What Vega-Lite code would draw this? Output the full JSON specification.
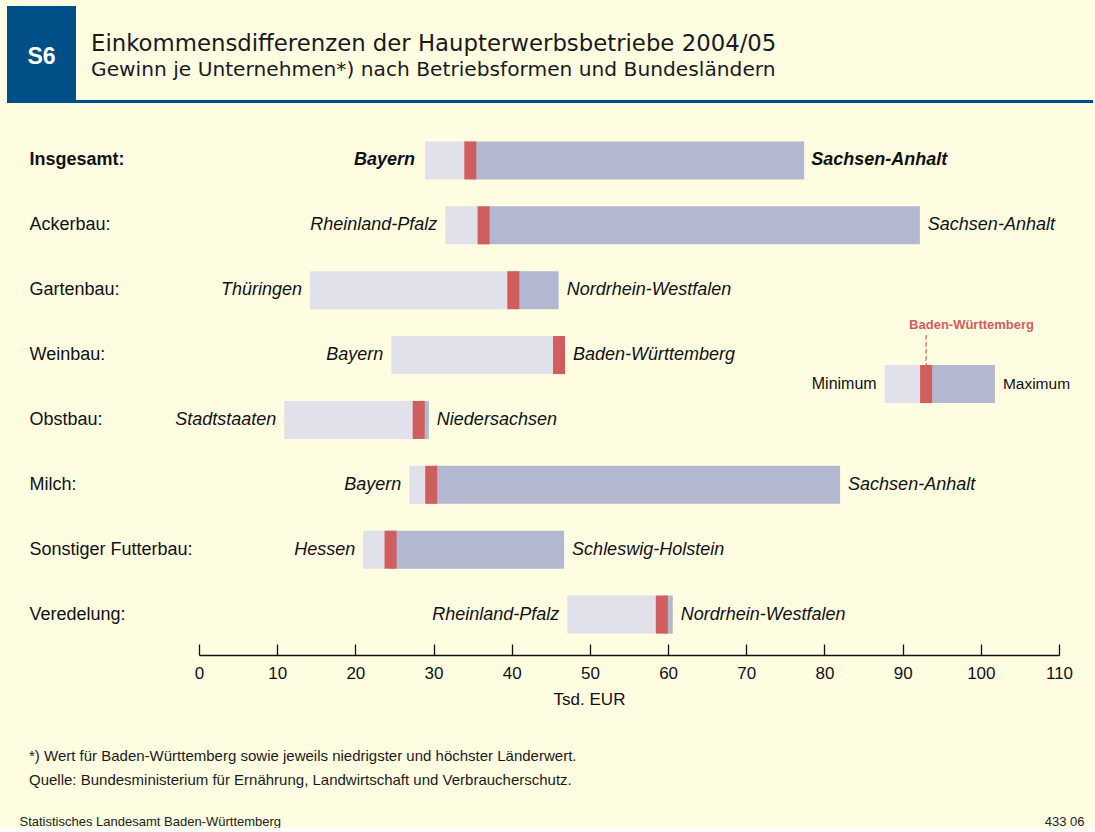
{
  "$schema": "https://vega.github.io/schema/vega-lite/v6.json",
  "background": "#fffde1",
  "padding": {"left": 6, "top": 6, "right": 3, "bottom": 0},
  "config": {"view": {"stroke": null}, "font": "Liberation Sans"},
  "spacing": 25,
  "datasets": {
    "rows": [
      {"cat": "Insgesamt:", "min": 28.9, "bw": 34.7, "max": 77.4, "minLand": "Bayern", "maxLand": "Sachsen-Anhalt"},
      {"cat": "Ackerbau:", "min": 31.5, "bw": 36.4, "max": 92.2, "minLand": "Rheinland-Pfalz", "maxLand": "Sachsen-Anhalt"},
      {"cat": "Gartenbau:", "min": 14.2, "bw": 40.2, "max": 46.0, "minLand": "Thüringen", "maxLand": "Nordrhein-Westfalen"},
      {"cat": "Weinbau:", "min": 24.6, "bw": 46.05, "max": 46.8, "minLand": "Bayern", "maxLand": "Baden-Württemberg"},
      {"cat": "Obstbau:", "min": 10.9, "bw": 28.1, "max": 29.4, "minLand": "Stadtstaaten", "maxLand": "Niedersachsen"},
      {"cat": "Milch:", "min": 26.9, "bw": 29.7, "max": 82.0, "minLand": "Bayern", "maxLand": "Sachsen-Anhalt"},
      {"cat": "Sonstiger Futterbau:", "min": 21.0, "bw": 24.5, "max": 46.7, "minLand": "Hessen", "maxLand": "Schleswig-Holstein"},
      {"cat": "Veredelung:", "min": 47.1, "bw": 59.2, "max": 60.6, "minLand": "Rheinland-Pfalz", "maxLand": "Nordrhein-Westfalen"}
    ],
    "legend": [
      {"cat": "Weinbau:", "min": 87.7, "bw": 93.0, "max": 101.8, "minLabel": "Minimum", "maxLabel": "Maximum", "bwLabel": "Baden-Württemberg"}
    ],
    "blank": [{"label": ""}]
  },
  "vconcat": [
    {
      "spacing": 0,
      "hconcat": [
        {
          "width": 69,
          "height": 97,
          "view": {"fill": "#004f87", "stroke": null},
          "data": {"values": [{"label": "S6"}]},
          "mark": {"type": "text", "color": "#ffffff", "fontWeight": "bold", "fontSize": 23, "font": "Liberation Sans", "baseline": "middle", "align": "center", "dy": 2},
          "encoding": {"text": {"field": "label"}}
        },
        {
          "spacing": 20,
          "vconcat": [
            {
              "width": 1017,
              "height": 1,
              "data": {"name": "blank"},
              "mark": {"type": "rect", "opacity": 0},
              "title": {
                "text": "Einkommensdifferenzen der Haupterwerbsbetriebe 2004/05",
                "subtitle": "Gewinn je Unternehmen*) nach Betriebsformen und Bundesländern",
                "orient": "bottom",
                "anchor": "start",
                "frame": "group",
                "dx": 15,
                "offset": 26,
                "font": "DejaVu Sans",
                "fontSize": 22.8,
                "fontWeight": "normal",
                "color": "#1a1a1a",
                "subtitleFont": "DejaVu Sans",
                "subtitleFontSize": 20.2,
                "subtitleColor": "#1a1a1a",
                "subtitlePadding": 4
              }
            },
            {
              "width": 1017,
              "height": 3,
              "data": {"name": "blank"},
              "mark": {"type": "rect", "color": "#004f87"}
            }
          ]
        }
      ]
    },
    {
      "spacing": 21,
      "hconcat": [
        {
          "width": 1,
          "height": 1,
          "data": {"name": "blank"},
          "mark": {"type": "rect", "opacity": 0}
        },
        {
          "width": 860,
          "height": 519,
          "title": {
            "text": ["*) Wert für Baden-Württemberg sowie jeweils niedrigster und höchster Länderwert.", "Quelle: Bundesministerium für Ernährung, Landwirtschaft und Verbraucherschutz."],
            "orient": "bottom",
            "anchor": "start",
            "frame": "bounds",
            "offset": 42,
            "font": "Liberation Sans",
            "fontSize": 15,
            "fontWeight": "normal",
            "lineHeight": 24,
            "color": "#1a1a1a"
          },
          "data": {"name": "rows"},
          "encoding": {
            "y": {
              "field": "cat",
              "type": "nominal",
              "sort": null,
              "scale": {
                "domain": ["Insgesamt:", "Ackerbau:", "Gartenbau:", "Weinbau:", "Obstbau:", "Milch:", "Sonstiger Futterbau:", "Veredelung:"],
                "paddingInner": 0.414,
                "paddingOuter": 0.207
              },
              "axis": {
                "title": null,
                "domain": false,
                "ticks": false,
                "labelAlign": "left",
                "labelPadding": 170,
                "labelFontSize": 18,
                "labelFont": "Liberation Sans",
                "labelColor": "#111111",
                "labelLimit": 300,
                "labelFontWeight": {"condition": {"test": "datum.value === 'Insgesamt:'", "value": "bold"}, "value": "normal"}
              }
            }
          },
          "layer": [
            {
              "mark": {"type": "bar", "color": "#e1e1ec"},
              "encoding": {
                "x": {
                  "field": "min",
                  "type": "quantitative",
                  "scale": {"domain": [0, 110], "nice": false, "zero": false},
                  "axis": {
                    "title": "Tsd. EUR",
                    "offset": 8,
                    "values": [0, 10, 20, 30, 40, 50, 60, 70, 80, 90, 100, 110],
                    "grid": false,
                    "tickSize": -11,
                    "tickWidth": 1.3,
                    "tickColor": "#111111",
                    "domainColor": "#111111",
                    "domainWidth": 1.3,
                    "labelFontSize": 17,
                    "labelFont": "Liberation Sans",
                    "labelColor": "#111111",
                    "labelPadding": 21,
                    "labelFlush": false,
                    "titleFont": "Liberation Sans",
                    "titleFontSize": 17,
                    "titleFontWeight": "normal",
                    "titleColor": "#111111",
                    "titleX": 390,
                    "titleY": 36,
                    "titleBaseline": "top",
                    "titleAlign": "center"
                  }
                },
                "x2": {"field": "bw"}
              }
            },
            {
              "mark": {"type": "bar", "color": "#b2b8d0"},
              "encoding": {
                "x": {"field": "bw", "type": "quantitative"},
                "x2": {"field": "max"}
              }
            },
            {
              "mark": {"type": "tick", "color": "#d05e5e", "thickness": 12, "size": 38, "opacity": 1},
              "encoding": {
                "x": {"field": "bw", "type": "quantitative"}
              }
            },
            {
              "transform": [{"filter": "datum.cat !== 'Insgesamt:'"}],
              "mark": {"type": "text", "align": "right", "baseline": "middle", "dx": -8, "fontSize": 18, "fontStyle": "italic", "color": "#111111"},
              "encoding": {
                "x": {"field": "min", "type": "quantitative"},
                "text": {"field": "minLand"}
              }
            },
            {
              "transform": [{"filter": "datum.cat !== 'Insgesamt:'"}],
              "mark": {"type": "text", "align": "left", "baseline": "middle", "dx": 8, "fontSize": 18, "fontStyle": "italic", "color": "#111111"},
              "encoding": {
                "x": {"field": "max", "type": "quantitative"},
                "text": {"field": "maxLand"}
              }
            },
            {
              "transform": [{"filter": "datum.cat === 'Insgesamt:'"}],
              "mark": {"type": "text", "align": "right", "baseline": "middle", "dx": -10, "fontSize": 18, "fontStyle": "italic", "fontWeight": "bold", "color": "#111111"},
              "encoding": {
                "x": {"field": "min", "type": "quantitative"},
                "text": {"field": "minLand"}
              }
            },
            {
              "transform": [{"filter": "datum.cat === 'Insgesamt:'"}],
              "mark": {"type": "text", "align": "left", "baseline": "middle", "dx": 7, "fontSize": 18, "fontStyle": "italic", "fontWeight": "bold", "color": "#111111"},
              "encoding": {
                "x": {"field": "max", "type": "quantitative"},
                "text": {"field": "maxLand"}
              }
            },
            {
              "data": {"name": "legend"},
              "mark": {"type": "bar", "color": "#e1e1ec", "yOffset": 29, "y2Offset": 29},
              "encoding": {
                "x": {"field": "min", "type": "quantitative"},
                "x2": {"field": "bw"}
              }
            },
            {
              "data": {"name": "legend"},
              "mark": {"type": "bar", "color": "#b2b8d0", "yOffset": 29, "y2Offset": 29},
              "encoding": {
                "x": {"field": "bw", "type": "quantitative"},
                "x2": {"field": "max"}
              }
            },
            {
              "data": {"name": "legend"},
              "mark": {"type": "tick", "color": "#d05e5e", "thickness": 12, "size": 38, "opacity": 1, "yOffset": 29},
              "encoding": {
                "x": {"field": "bw", "type": "quantitative"}
              }
            },
            {
              "data": {"name": "legend"},
              "mark": {"type": "tick", "filled": false, "color": "#e07a7a", "strokeWidth": 1, "strokeDash": [4, 3], "thickness": 0.5, "size": 30, "yOffset": -5, "opacity": 1},
              "encoding": {
                "x": {"field": "bw", "type": "quantitative"}
              }
            },
            {
              "data": {"name": "legend"},
              "mark": {"type": "text", "align": "right", "baseline": "middle", "dx": -8, "yOffset": 29, "fontSize": 16, "color": "#111111"},
              "encoding": {
                "x": {"field": "min", "type": "quantitative"},
                "text": {"field": "minLabel"}
              }
            },
            {
              "data": {"name": "legend"},
              "mark": {"type": "text", "align": "left", "baseline": "middle", "dx": 8, "yOffset": 29, "fontSize": 15.5, "color": "#111111"},
              "encoding": {
                "x": {"field": "max", "type": "quantitative"},
                "text": {"field": "maxLabel"}
              }
            },
            {
              "data": {"name": "legend"},
              "mark": {"type": "text", "align": "left", "baseline": "middle", "dx": -17, "yOffset": -30, "fontSize": 13, "fontWeight": "bold", "color": "#d05e5e"},
              "encoding": {
                "x": {"field": "bw", "type": "quantitative"},
                "text": {"field": "bwLabel"}
              }
            }
          ]
        }
      ]
    },
    {
      "width": 1065,
      "height": 1,
      "data": {"values": [{"t": "Statistisches Landesamt Baden-Württemberg"}, {"t": "433 06"}]},
      "mark": {"type": "point", "opacity": 0, "size": 1},
      "encoding": {
        "x": {
          "field": "t",
          "type": "nominal",
          "sort": null,
          "scale": {"type": "point", "padding": 0},
          "axis": {
            "title": null,
            "orient": "bottom",
            "domain": false,
            "ticks": false,
            "labelAngle": 0,
            "labelFlush": true,
            "labelOffset": 12,
            "labelPadding": 1,
            "labelFontSize": 13,
            "labelFont": "Liberation Sans",
            "labelColor": "#222222",
            "labelLimit": 500
          }
        }
      }
    }
  ]
}
